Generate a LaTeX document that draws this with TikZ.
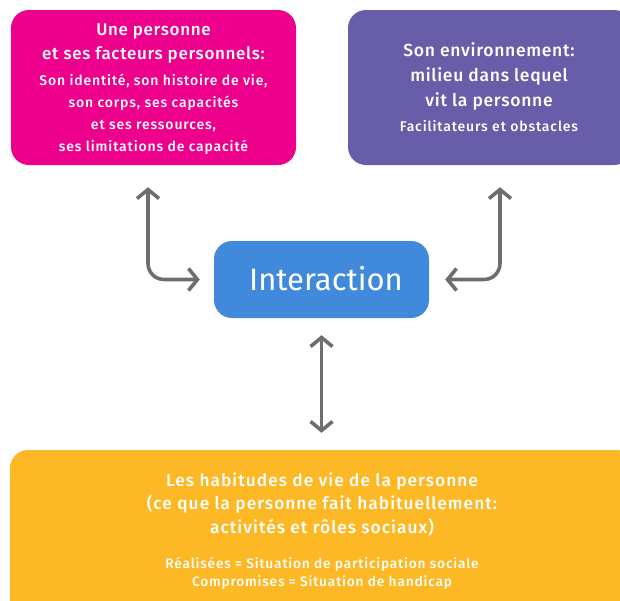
\documentclass[tikz,border=0pt]{standalone}
\usepackage{fontspec}
\setmainfont{Fira Sans}
\newfontfamily\boxfont[LetterSpace=4]{Fira Sans Medium}
\newfontfamily\widefont[LetterSpace=6]{Fira Sans Medium}
\usetikzlibrary{arrows.meta}
\definecolor{perspink}{HTML}{EC008C}
\definecolor{envpurple}{HTML}{675DA8}
\definecolor{interblue}{HTML}{418ADB}
\definecolor{habitorange}{HTML}{FDB825}
\definecolor{linkgray}{HTML}{6D6E71}

\begin{document}
\begin{tikzpicture}[
    x=1pt, y=-1pt,
    box/.style={rounded corners=18pt, inner sep=0pt},
    link/.style={draw=linkgray, line width=3.6pt, line cap=round, line join=round,
        {Straight Barb[length=9pt,width=22pt]}-{Straight Barb[length=9pt,width=22pt]}},
    title text/.style={text=white, align=center, inner sep=0pt, font=\boxfont\fontsize{17}{24}\selectfont},
    small text/.style={text=white, align=center, inner sep=0pt, font=\widefont\fontsize{14}{22}\selectfont},
    ]

    \useasboundingbox (0,0) rectangle (620,600);
    \clip (0,0) rectangle (620,600);

    % boxes
    \node[box, fill=perspink, minimum width=285pt, minimum height=155pt] (pers) at (153.5,87.5) {};
    \node[box, fill=envpurple, minimum width=284pt, minimum height=155pt] (env) at (490,87.5) {};
    \node[box, fill=interblue, minimum width=215pt, minimum height=77pt] (inter) at (321.5,279.5) {};
    \node[box, fill=habitorange, minimum width=624pt, minimum height=170pt] (habit) at (322,535) {};

    % texts
    \node[title text, anchor=north] (perstitle) at (153.5,24) {Une personne\\et ses facteurs personnels:};
    \node[small text, anchor=north] (persdetail) at (153.5,74) {Son identité, son histoire de vie,\\son corps, ses capacités\\et ses ressources,\\ses limitations de capacité};
    \node[title text, anchor=north, font=\boxfont\fontsize{17.5}{25}\selectfont] (envtitle) at (489,42) {Son environnement:\\milieu dans lequel\\vit la personne};
    \node[small text, anchor=north] (envdetail) at (489,120) {Facilitateurs et obstacles};
    \node[text=white, font=\fontsize{31}{33}\selectfont] (intertext) at (326,279) {Interaction};
    \node[title text, anchor=north, font=\widefont\fontsize{17.3}{23.5}\selectfont] (habittitle) at (322,472) {Les habitudes de vie de la personne\\(ce que la personne fait habituellement:\\activités et rôles sociaux)};
    \node[small text, anchor=north, font=\widefont\fontsize{13.7}{18}\selectfont] (habitdetail) at (322,557) {Réalisées = Situation de participation sociale\\Compromises = Situation de handicap};

    % arrows
    \coordinate (lx) at (148,0);
    \coordinate (rx) at (500,0);
    \draw[link, rounded corners=16pt, shorten <=22pt, shorten >=14pt] (lx |- pers.south) |- (inter.west);
    \draw[link, rounded corners=16pt, shorten <=22pt, shorten >=16pt] (rx |- env.south) |- (inter.east);
    \draw[link, shorten <=17pt, shorten >=17pt] (inter.south) -- (habit.north -| inter.south);
\end{tikzpicture}
\end{document}
